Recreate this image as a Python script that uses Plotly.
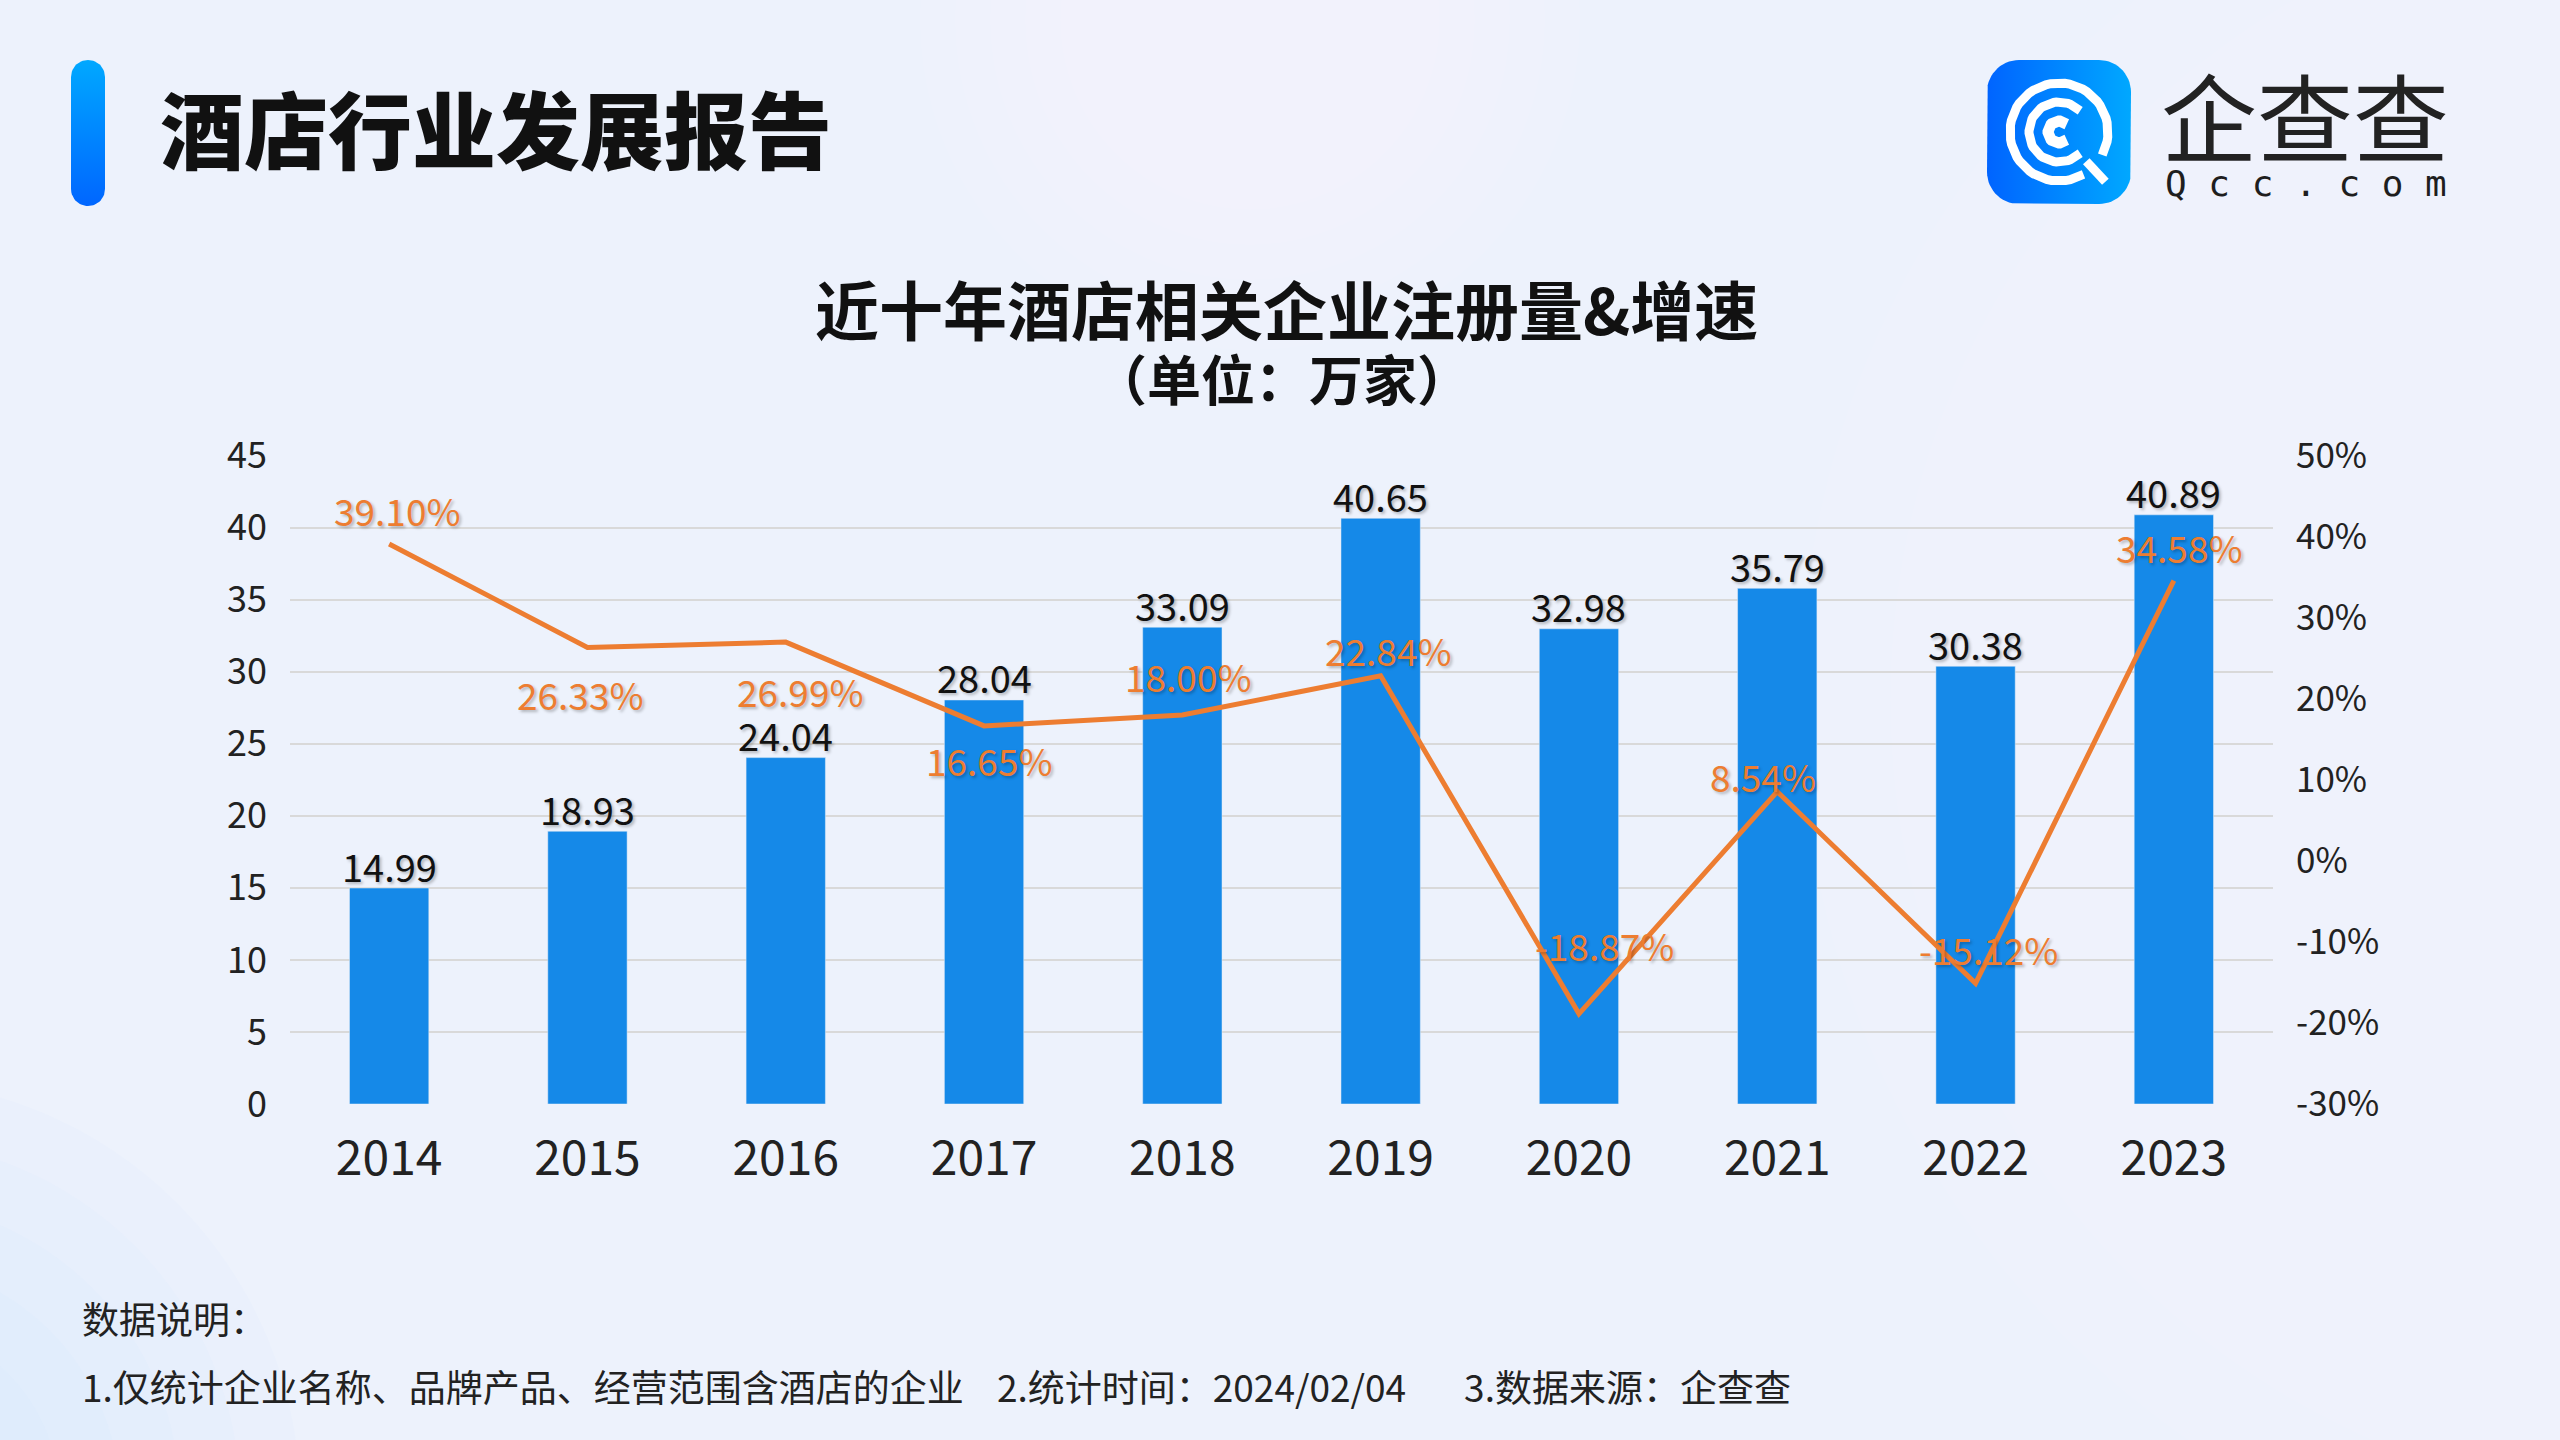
import numpy as np
import plotly.graph_objects as go

# ----------------------------
# data
# ----------------------------
years = ["2014", "2015", "2016", "2017", "2018", "2019", "2020", "2021", "2022", "2023"]
reg_counts = [14.99, 18.93, 24.04, 28.04, 33.09, 40.65, 32.98, 35.79, 30.38, 40.89]
growth_pct = [39.10, 26.33, 26.99, 16.65, 18.00, 22.84, -18.87, 8.54, -15.12, 34.58]
pct_ticks = [-30, -20, -10, 0, 10, 20, 30, 40, 50]

header_text = "酒店行业发展报告"
chart_title = "近十年酒店相关企业注册量&增速"
chart_unit = "（单位：万家）"
note_title = "数据说明："
note_body = ("1.仅统计企业名称、品牌产品、经营范围含酒店的企业\u00a0\u00a0\u00a0 2.统计时间：2024/02/04"
             "\u00a0\u00a0\u00a0\u00a0\u00a0\u00a0 3.数据来源：企查查")

# pixel offsets of the growth labels from their points (styling only)
growth_label_dx = [8, -7, 15, 5, 6, 8, 26, -14, 13, 6]
growth_label_dy = [34, -47, -49, -34, 39, 26, 69, 16, 34, 34]

W, H = 2560, 1440
FONT = "Noto Sans CJK SC"
BAR_BLUE = "#1589E8"
ORANGE = "#ED7D31"
SHADOW = "2px 2px 3px rgba(0,0,0,0.25)"


def fx(x):
    return x / W


def fy(y):
    return 1 - y / H


def rounded_rect(x0, y0, x1, y1, r, n=16):
    # outline of a rounded rectangle in pixel coords (y down)
    xs, ys = [], []
    corners = [(x1 - r, y0 + r, -90, 0), (x1 - r, y1 - r, 0, 90),
               (x0 + r, y1 - r, 90, 180), (x0 + r, y0 + r, 180, 270)]
    for cx, cy, a0, a1 in corners:
        t = np.radians(np.linspace(a0, a1, n))
        xs += list(cx + r * np.cos(t))
        ys += list(cy + r * np.sin(t))
    xs.append(xs[0])
    ys.append(ys[0])
    return xs, ys


def arc(cx, cy, r, a0, a1, n=60):
    # math angles (counter clockwise, y up) -> pixel coords
    t = np.radians(np.linspace(a0, a1, n))
    return list(cx + r * np.cos(t)), list(cy - r * np.sin(t))


fig = go.Figure()

# ----------------------------
# main chart
# ----------------------------
fig.add_trace(go.Bar(
    x=years, y=reg_counts,
    marker_color=BAR_BLUE,
    hoverinfo="skip",
    xaxis="x", yaxis="y",
))

fig.add_trace(go.Scatter(
    x=years, y=growth_pct,
    mode="lines",
    line=dict(color=ORANGE, width=5),
    cliponaxis=False,
    hoverinfo="skip",
    xaxis="x", yaxis="y2",
))

# ----------------------------
# decorations (pixel overlay axes)
# ----------------------------
pill_x, pill_y = rounded_rect(71, 60, 105, 206, 17)
fig.add_trace(go.Scatter(
    x=pill_x, y=pill_y, mode="lines", fill="toself", line=dict(width=0),
    fillgradient=dict(type="vertical", start=60, stop=206,
                      colorscale=[[0, "#00A8FF"], [1, "#0066FF"]]),
    hoverinfo="skip", xaxis="x3", yaxis="y3",
))

logo_x, logo_y = rounded_rect(1987, 60, 2131, 204, 32)
fig.add_trace(go.Scatter(
    x=logo_x, y=logo_y, mode="lines", fill="toself", line=dict(width=0),
    fillgradient=dict(type="horizontal", start=1987, stop=2131,
                      colorscale=[[0, "#0064FF"], [1, "#00A8FF"]]),
    hoverinfo="skip", xaxis="x3", yaxis="y3",
))

cx, cy = 2059, 132
logo_strokes = [
    arc(cx, cy, 49, -28, 300),
    arc(cx, cy, 30, 45, 315),
    arc(cx, cy, 11, 45, 315),
    ([cx + 40 * np.cos(np.radians(-47)), cx + 68 * np.cos(np.radians(-47))],
     [cy + 40 * np.sin(np.radians(47)), cy + 68 * np.sin(np.radians(47))]),
]
for i, (sx, sy) in enumerate(logo_strokes):
    fig.add_trace(go.Scatter(
        x=sx, y=sy, mode="lines",
        line=dict(color="white", width=11 if i == 2 else 9),
        hoverinfo="skip", xaxis="x3", yaxis="y3",
    ))

# ----------------------------
# background blobs
# ----------------------------
shapes = []
for k in range(8):
    r = 330 - k * 35
    shapes.append(dict(type="circle", xref="paper", yref="paper", layer="below",
                       x0=fx(1250 - r), x1=fx(1250 + r), y0=fy(20 + r), y1=fy(20 - r),
                       fillcolor="rgba(255,255,255,0.07)", line_width=0))
for k in range(8):
    r = 900 - k * 90
    shapes.append(dict(type="circle", xref="paper", yref="paper", layer="below",
                       x0=fx(2700 - r), x1=fx(2700 + r), y0=fy(700 + r), y1=fy(700 - r),
                       fillcolor="rgba(255,255,255,0.06)", line_width=0))
for k in range(6):
    r = 420 - k * 60
    shapes.append(dict(type="circle", xref="paper", yref="paper", layer="below",
                       x0=fx(-120 - r), x1=fx(-120 + r), y0=fy(1500 + r), y1=fy(1500 - r),
                       fillcolor="rgba(205,221,248,0.07)", line_width=0))

# ----------------------------
# texts
# ----------------------------
annotations = [
    dict(text=header_text, x=fx(158), y=fy(126), xanchor="left", yanchor="middle",
         font=dict(family=FONT, size=84, color="#111111", weight=900)),
    dict(text=chart_title, x=fx(1286), y=fy(307), xanchor="center", yanchor="middle",
         font=dict(family=FONT, size=64, color="#111111", weight=700)),
    dict(text=chart_unit, x=fx(1282), y=fy(378), xanchor="center", yanchor="middle",
         font=dict(family=FONT, size=54, color="#111111", weight=700)),
    dict(text="企查查", x=fx(2305), y=fy(113), xanchor="center", yanchor="middle",
         font=dict(family=FONT, size=96, color="#222222", weight=400)),
    dict(text="\u00a0".join("Qcc.com"), x=fx(2306), y=fy(183), xanchor="center",
         yanchor="middle", font=dict(family="DejaVu Sans Mono", size=36, color="#1E1E1E")),
    dict(text=note_title, x=fx(80), y=fy(1318), xanchor="left", yanchor="middle",
         font=dict(family=FONT, size=37, color="#222222")),
    dict(text=note_body, x=fx(80), y=fy(1386), xanchor="left", yanchor="middle",
         font=dict(family=FONT, size=37, color="#222222")),
]
for a in annotations:
    a.update(xref="paper", yref="paper", showarrow=False)

# bar value labels, sitting just above each bar
for i, v in enumerate(reg_counts):
    annotations.append(dict(
        text=f"{v:.2f}", x=i, y=v, xref="x", yref="y", showarrow=False,
        xanchor="center", yanchor="middle", yshift=23,
        font=dict(family=FONT, size=38, color="#111111", shadow=SHADOW),
    ))

# growth labels: placed on the category index of each year
for i, (v, dx, dy) in enumerate(zip(growth_pct, growth_label_dx, growth_label_dy)):
    annotations.append(dict(
        text=f"{v:.2f}%", x=i, y=v, xref="x", yref="y2", showarrow=False,
        xanchor="center", yanchor="middle", xshift=dx, yshift=dy,
        font=dict(family=FONT, size=37, color=ORANGE, shadow=SHADOW),
    ))

fig.update_layout(
    width=W, height=H,
    margin=dict(l=0, r=0, t=0, b=0, autoexpand=False),
    paper_bgcolor="#EDF2FC",
    plot_bgcolor="rgba(0,0,0,0)",
    showlegend=False,
    bargap=0.6,
    shapes=shapes,
    annotations=annotations,
    xaxis=dict(domain=[fx(290), fx(2273)], anchor="y", type="category",
               range=[-0.5, len(years) - 0.5],
               showgrid=False, showline=False, zeroline=False, ticks="",
               ticklabelstandoff=22, automargin=False,
               tickfont=dict(family=FONT, size=48, color="#222222")),
    yaxis=dict(domain=[fy(1104), fy(455.6)], anchor="x", range=[0, 45], dtick=5,
               showgrid=True, gridcolor="#D9D9D9", gridwidth=2, automargin=False,
               showline=False, zeroline=False, ticks="", ticklabelstandoff=22,
               tickfont=dict(family=FONT, size=36, color="#222222")),
    yaxis2=dict(overlaying="y", anchor="x", side="right", range=[-30, 50],
                tickvals=pct_ticks, ticktext=[f"{v}%" for v in pct_ticks],
                showgrid=False, showline=False, zeroline=False, automargin=False,
                ticks="", ticklabelstandoff=22,
                tickfont=dict(family=FONT, size=35, color="#222222")),
    xaxis3=dict(domain=[0, 1], anchor="y3", range=[0, W], visible=False, fixedrange=True),
    yaxis3=dict(domain=[0, 1], anchor="x3", range=[H, 0], visible=False, fixedrange=True),
)

fig.write_html("out.html", config={"displayModeBar": False},
               post_script="document.body.style.margin='0px';")
